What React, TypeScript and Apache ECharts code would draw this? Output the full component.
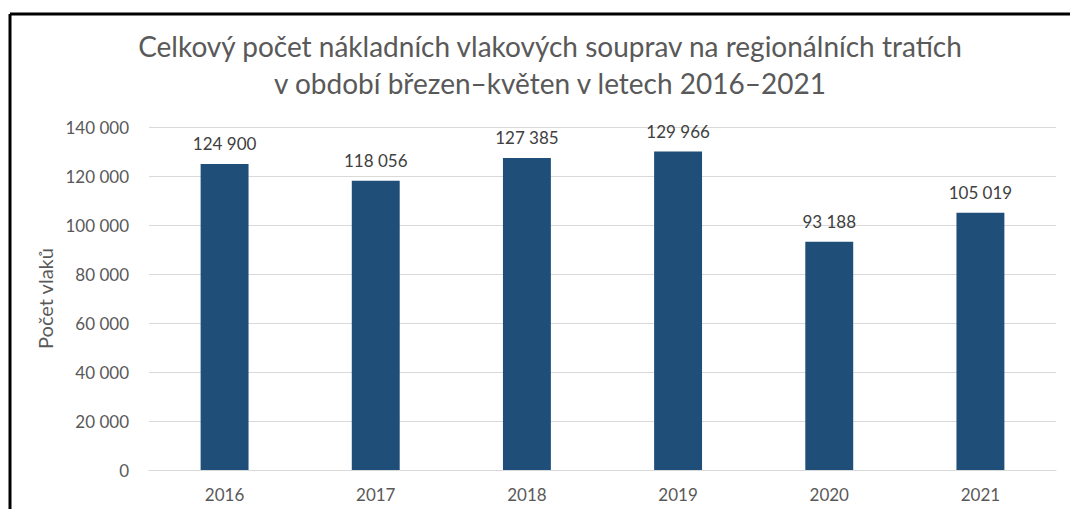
import React, { useEffect, useRef } from "react";
import * as echarts from "echarts";

const years = ["2016", "2017", "2018", "2019", "2020", "2021"];
const trains = [124900, 118056, 127385, 129966, 93188, 105019];
const titleLines = [
  "Celkový počet nákladních vlakových souprav na regionálních tratích",
  "v období březen–květen v letech 2016–2021",
];
const yAxisName = "Počet vlaků";

const fmt = (v: number) => String(v).replace(/\B(?=(\d{3})+(?!\d))/g, " ");

export default function App() {
  const ref = useRef<HTMLDivElement>(null);
  useEffect(() => {
    if (!ref.current) return;
    const chart = echarts.init(ref.current, null, { renderer: "svg" });
    chart.setOption({
      animation: false,
      backgroundColor: "#ffffff",
      textStyle: { fontFamily: "Lato" },
      title: {
        text: titleLines.join("\n"),
        left: 545,
        top: 22,
        textAlign: "center",
        textStyle: { fontFamily: "Lato", fontSize: 28, fontWeight: "normal", color: "#595959", lineHeight: 37 },
      },
      grid: { left: 149, right: 14, top: 127, bottom: 39, containLabel: false },
      xAxis: {
        type: "category",
        data: years,
        axisLine: { lineStyle: { color: "#D9D9D9", width: 1 } },
        axisTick: { show: false },
        axisLabel: { color: "#595959", fontSize: 17, margin: 16, fontFamily: "Lato" },
      },
      yAxis: {
        type: "value",
        min: 0,
        max: 140000,
        interval: 20000,
        name: yAxisName,
        nameLocation: "middle",
        nameGap: 91,
        nameTextStyle: { color: "#595959", fontSize: 20, fontFamily: "Lato" },
        axisLine: { show: false },
        axisTick: { show: false },
        splitLine: { lineStyle: { color: "#D9D9D9", width: 1 } },
        axisLabel: { color: "#595959", fontSize: 17, margin: 20, fontFamily: "Lato", formatter: (v: number) => fmt(v) },
      },
      series: [
        {
          type: "bar",
          data: trains,
          barWidth: "31.7%",
          itemStyle: { color: "#1F4E79" },
          label: {
            show: true,
            position: "top",
            distance: 12,
            color: "#404040",
            fontSize: 17,
            fontFamily: "Lato",
            formatter: (p: any) => fmt(p.value),
          },
        },
      ],
      graphic: [
        { type: "line", shape: { x1: 10, y1: 14, x2: 1070, y2: 14 }, style: { stroke: "#000", lineWidth: 3 } },
        { type: "line", shape: { x1: 10, y1: 14, x2: 10, y2: 509 }, style: { stroke: "#000", lineWidth: 3 } },
      ],
    });
    return () => chart.dispose();
  }, []);
  return <div ref={ref} style={{ position: "fixed", left: 0, top: 0, width: 1070, height: 509 }} />;
}
